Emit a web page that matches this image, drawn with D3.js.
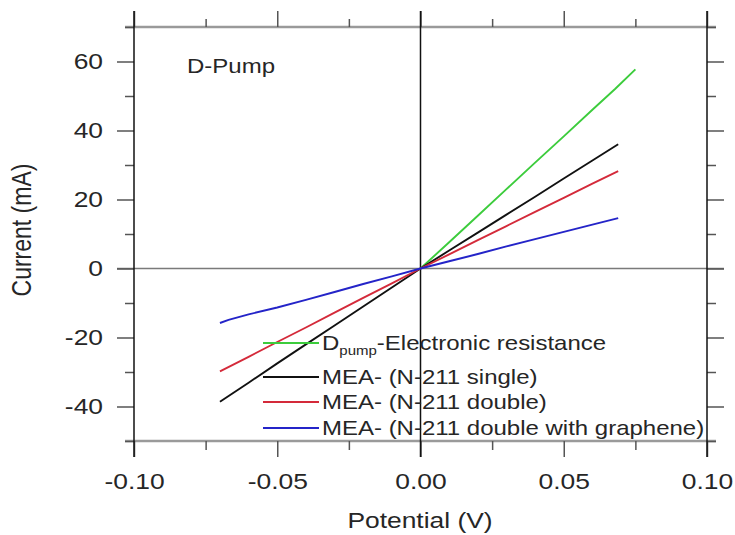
<!DOCTYPE html>
<html>
<head>
<meta charset="utf-8">
<script src="https://cdn.jsdelivr.net/npm/d3@7/dist/d3.min.js"></script>
<style>
  html, body { margin: 0; padding: 0; background: #fff; }
  svg { display: block; }
  text { font-family: "Liberation Sans", Arial, Helvetica, sans-serif; fill: #262626; }
</style>
</head>
<body>
<svg id="chart" width="735" height="535"></svg>
<script>
// ---- data ----
const greenX = [0, 0.01, 0.02, 0.03, 0.04, 0.05, 0.06, 0.068, 0.075];
const greenY = [0, 7.6, 15.3, 23.0, 30.7, 38.3, 46.0, 52.1, 57.7];

const blackX = [-0.070, -0.060, -0.050, -0.040, -0.030, -0.020, -0.010, 0, 0.010, 0.020, 0.030, 0.040, 0.050, 0.060, 0.069];
const blackY = [-38.6, -33.1, -27.5, -22.0, -16.5, -11.0, -5.5, 0, 5.2, 10.4, 15.6, 20.8, 26.1, 31.3, 36.0];

const redX = [-0.070, -0.060, -0.050, -0.040, -0.030, -0.020, -0.010, 0, 0.010, 0.020, 0.030, 0.040, 0.050, 0.060, 0.069];
const redY = [-29.8, -25.6, -21.3, -17.1, -12.8, -8.5, -4.3, 0, 4.1, 8.2, 12.3, 16.4, 20.5, 24.6, 28.2];

const blueX = [-0.070, -0.067, -0.060, -0.050, -0.040, -0.030, -0.020, -0.010, 0, 0.010, 0.020, 0.030, 0.040, 0.050, 0.060, 0.069];
const blueY = [-15.8, -14.9, -13.3, -11.3, -9.1, -6.8, -4.5, -2.3, 0, 2.1, 4.2, 6.4, 8.5, 10.6, 12.7, 14.6];

const seriesNames = ["-Electronic resistance", "MEA- (N-211 single)", "MEA- (N-211 double)", "MEA- (N-211 double with graphene)"];
const seriesColors = ["#3ccc3c", "#111111", "#d42a3a", "#2424c8"];

const xMajor = [-0.10, -0.05, 0.00, 0.05, 0.10];
const xMinor = [-0.075, -0.025, 0.025, 0.075];
const yMajor = [-40, -20, 0, 20, 40, 60];
const yMinor = [-50, -30, -10, 10, 30, 50, 70];

// ---- layout ----
const SX = 1.2; // horizontal text stretch of the reference
const svg = d3.select("#chart");
const x = d3.scaleLinear().domain([-0.1, 0.1]).range([134, 707]);
const y = d3.scaleLinear().domain([-50, 70]).range([441, 27]);

const hyph = f => d => f(d).replace("\u2212", "-");

function stretchTexts(sel) {
  sel.selectAll("text").each(function() {
    const t = d3.select(this);
    const tx = +t.attr("x") || 0, ty = +t.attr("y") || 0;
    t.attr("x", 0).attr("y", 0).attr("transform", `translate(${tx},${ty}) scale(${SX},1)`);
  });
}

// horizontal frame lines (top/bottom), gray
svg.append("g").selectAll("line").data([70, -50]).join("line")
  .attr("x1", 125).attr("x2", 716)
  .attr("y1", d => y(d)).attr("y2", d => y(d))
  .attr("stroke", "#9a9a9a").attr("stroke-width", 2.6);

// zero horizontal line
svg.append("line")
  .attr("x1", 117).attr("x2", 724).attr("y1", y(0)).attr("y2", y(0))
  .attr("stroke", "#7a7a7a").attr("stroke-width", 1.6);

// axes via d3
function styleAxis(g) {
  g.select(".domain").remove();
  g.selectAll(".tick line").attr("stroke", "#555").attr("stroke-width", 1.5);
}
const fs = 22;
const gl = svg.append("g").attr("transform", `translate(134,0)`)
  .call(d3.axisLeft(y).tickValues(yMajor).tickSize(17).tickPadding(14).tickFormat(hyph(d3.format("d"))));
styleAxis(gl);
gl.selectAll("text").attr("font-size", fs).attr("fill", "#262626").style("font-family", "Liberation Sans, Arial, sans-serif");
stretchTexts(gl);
const glm = svg.append("g").attr("transform", `translate(134,0)`)
  .call(d3.axisLeft(y).tickValues(yMinor).tickSize(9).tickFormat(""));
styleAxis(glm);
const gr = svg.append("g").attr("transform", `translate(707,0)`)
  .call(d3.axisRight(y).tickValues(yMajor).tickSize(17).tickFormat(""));
styleAxis(gr);
const grm = svg.append("g").attr("transform", `translate(707,0)`)
  .call(d3.axisRight(y).tickValues(yMinor).tickSize(9).tickFormat(""));
styleAxis(grm);

const gb = svg.append("g").attr("transform", `translate(0,441)`)
  .call(d3.axisBottom(x).tickValues(xMajor).tickSize(16).tickPadding(16).tickFormat(hyph(d3.format(".2f"))));
styleAxis(gb);
gb.selectAll("text").attr("font-size", fs).attr("fill", "#262626").style("font-family", "Liberation Sans, Arial, sans-serif");
stretchTexts(gb);
const gbm = svg.append("g").attr("transform", `translate(0,441)`)
  .call(d3.axisBottom(x).tickValues(xMinor).tickSize(9).tickFormat(""));
styleAxis(gbm);
const gt = svg.append("g").attr("transform", `translate(0,27)`)
  .call(d3.axisTop(x).tickValues(xMajor).tickSize(16).tickFormat(""));
styleAxis(gt);
const gtm = svg.append("g").attr("transform", `translate(0,27)`)
  .call(d3.axisTop(x).tickValues(xMinor).tickSize(8).tickFormat(""));
styleAxis(gtm);

// vertical black lines (left, zero, right)
svg.append("g").selectAll("line").data([-0.1, 0, 0.1]).join("line")
  .attr("x1", d => x(d)).attr("x2", d => x(d))
  .attr("y1", 11).attr("y2", 457)
  .attr("stroke", "#111").attr("stroke-width", 1.5);

// series
const seriesData = [
  greenX.map((v, i) => [v, greenY[i]]),
  blackX.map((v, i) => [v, blackY[i]]),
  redX.map((v, i) => [v, redY[i]]),
  blueX.map((v, i) => [v, blueY[i]])
];
const line = d3.line().x(d => x(d[0])).y(d => y(d[1]));
svg.append("g").selectAll("path").data(seriesData).join("path")
  .attr("d", line).attr("fill", "none")
  .attr("stroke", (d, i) => seriesColors[i]).attr("stroke-width", 1.9);

// axis titles
svg.append("text").attr("transform", `translate(420,528) scale(${SX},1)`)
  .attr("text-anchor", "middle").attr("font-size", 22).text("Potential (V)");
svg.append("text").attr("transform", `translate(31,230) scale(${SX},1) rotate(-90)`)
  .attr("text-anchor", "middle").attr("font-size", 23).text("Current (mA)");

// annotation
svg.append("text").attr("transform", `translate(187,73) scale(${SX},1)`)
  .attr("font-size", 20).text("D-Pump");

// legend
const legRows = [343, 377, 402, 428];
const leg = svg.append("g");
legRows.forEach((ry, i) => {
  leg.append("line").attr("x1", 263).attr("x2", 319).attr("y1", ry).attr("y2", ry)
    .attr("stroke", seriesColors[i]).attr("stroke-width", 1.9);
  const t = leg.append("text").attr("transform", `translate(322,${ry + 7}) scale(${SX},1)`)
    .attr("font-size", 20);
  if (i === 0) {
    t.append("tspan").text("D");
    t.append("tspan").attr("font-size", 12.5).attr("dy", 5).text("pump");
    t.append("tspan").attr("dy", -5).text(seriesNames[0]);
  } else {
    t.text(seriesNames[i]);
  }
});
</script>
</body>
</html>
